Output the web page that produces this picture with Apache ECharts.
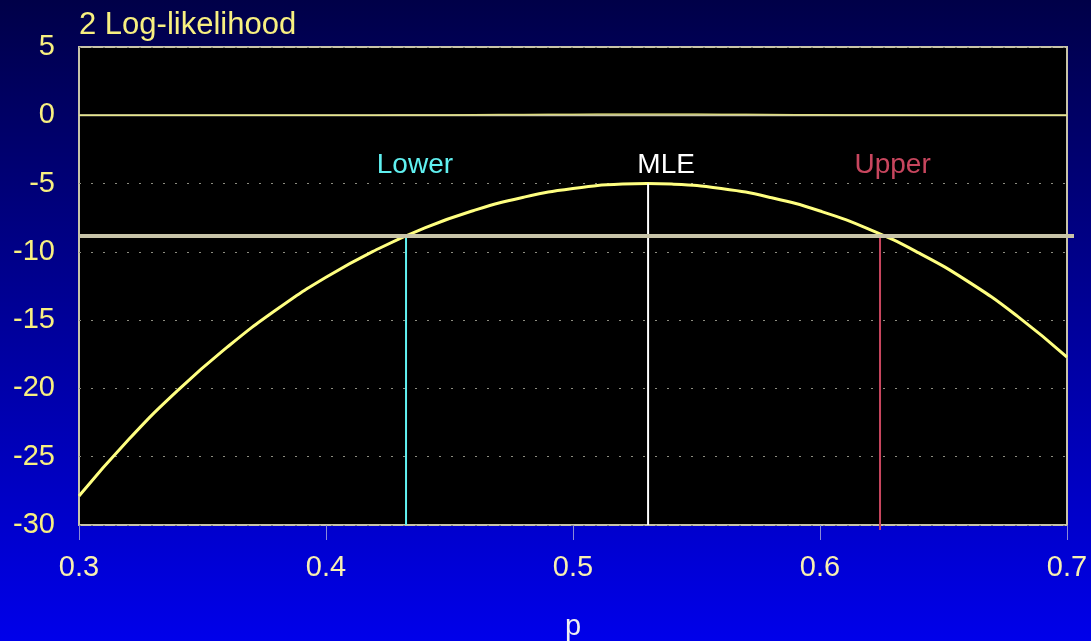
<!DOCTYPE html>
<html>
<head>
<meta charset="utf-8">
<script src="https://cdn.jsdelivr.net/npm/echarts@6/dist/echarts.min.js"></script>
<style>
html,body{margin:0;padding:0;background:#000060;}
#chart{width:1091px;height:641px;}
</style>
</head>
<body>
<div id="chart"></div>
<script>
// ---- data ----
var pValues = [0.30,0.32,0.34,0.36,0.38,0.40,0.42,0.44,0.46,0.48,0.50,0.52,0.53,0.54,0.56,0.58,0.60,0.62,0.64,0.66,0.68,0.70];
var logLik2 = [-27.88,-23.76,-20.14,-16.98,-14.22,-11.86,-9.88,-8.24,-6.96,-6.00,-5.36,-5.04,-5.00,-5.04,-5.36,-6.02,-7.01,-8.35,-10.08,-12.18,-14.72,-17.71];
var likScaled = [0,0,0,0,0.001,0.003,0.009,0.020,0.038,0.061,0.084,0.098,0.100,0.098,0.083,0.060,0.037,0.019,0.008,0.003,0.001,0];
var boundNames = ['Lower','MLE','Upper'];
var boundP = [0.4324,0.5304,0.6243];
var boundTop = [-8.84,-5.00,-8.84];
var boundBottom = [-30,-30,-30.37];
var boundColors = ['#60f0f0','#ffffff','#c8465e'];
var labelP = [0.4360,0.5377,0.6294];
var labelY = [-3.63,-3.63,-3.63];
var thresholdValue = -8.84;
var thresholdP = [0.30,0.70283];
var xTicks = {min:0.3,max:0.7,interval:0.1};
var yTicks = {min:-30,max:5,interval:5};

var FONT = 'Liberation Sans, Arial, sans-serif';
var curveData = pValues.map(function(p,i){return [p,logLik2[i]];});
var likData = pValues.map(function(p,i){return [p,likScaled[i]];});

var series = [
  {type:'line', xAxisIndex:0, yAxisIndex:0, data:[[0.3,0],[0.7,0]], symbol:'none',
   lineStyle:{color:'#c8c4a8',width:2}, z:2, silent:true},
  {type:'line', xAxisIndex:0, yAxisIndex:0, data:likData, smooth:true, symbol:'none',
   lineStyle:{color:'#f0f080',width:1.5,opacity:0.75}, z:3, silent:true},
  {type:'line', xAxisIndex:0, yAxisIndex:0, data:curveData, smooth:true, symbol:'none',
   lineStyle:{color:'#ffff80',width:3}, z:4, silent:true}
];
boundNames.forEach(function(n,i){
  series.push({type:'line', xAxisIndex:0, yAxisIndex:0, clip:false, symbol:'none', silent:true,
    data:[[boundP[i],boundTop[i]],[boundP[i],boundBottom[i]]],
    lineStyle:{color:boundColors[i],width:2}, z:5});
});
series.push({type:'line', xAxisIndex:1, yAxisIndex:1, clip:false, symbol:'none', silent:true,
  data:[[thresholdP[0],thresholdValue],[thresholdP[1],thresholdValue]],
  lineStyle:{color:'#c8c4a8',width:4}, z:6});
series.push({type:'scatter', xAxisIndex:0, yAxisIndex:0, symbolSize:2, silent:true,
  itemStyle:{color:'rgba(0,0,0,0)',opacity:1},
  data:boundNames.map(function(n,i){return {name:n,value:[labelP[i],labelY[i]],
    label:{color:boundColors[i]}};}),
  label:{show:true,position:'inside',formatter:'{b}',fontSize:28,fontFamily:FONT,
    opacity:1,textBorderWidth:0},
  z:7});

var option = {
  animation:false,
  backgroundColor:{type:'linear',x:0,y:0,x2:0,y2:1,
    colorStops:[{offset:0,color:'#000048'},{offset:1,color:'#0000ea'}]},
  title:{text:'2 Log-likelihood', left:74, top:5,
    textStyle:{color:'#f8f080',fontSize:31,fontWeight:'normal',fontFamily:FONT}},
  grid:[
    {left:79,right:24,top:47,bottom:116,show:true,backgroundColor:'#000000',
     borderColor:'#c8c4a8',borderWidth:2,outerBoundsMode:'none',containLabel:false},
    {left:79,right:17,top:47,bottom:116,show:false,outerBoundsMode:'none',containLabel:false}
  ],
  xAxis:[
    {type:'value',gridIndex:0,min:xTicks.min,max:xTicks.max,interval:xTicks.interval,
     name:'p',nameLocation:'middle',nameGap:87,
     nameTextStyle:{color:'#f0f0f0',fontSize:29,fontFamily:FONT},
     axisLine:{show:false,onZero:false},
     axisTick:{show:true,length:15,lineStyle:{color:'#8a8ad8',width:1}},
     axisLabel:{color:'#f8f0b0',fontSize:29,fontFamily:FONT,margin:28,
       formatter:function(v){return (Math.round(v*10)/10).toString();}},
     splitLine:{show:false}},
    {type:'value',gridIndex:1,min:thresholdP[0],max:thresholdP[1],show:false}
  ],
  yAxis:[
    {type:'value',gridIndex:0,min:yTicks.min,max:yTicks.max,interval:yTicks.interval,
     axisLine:{show:false},axisTick:{show:false},
     axisLabel:{color:'#f8f080',fontSize:29,fontFamily:FONT,margin:24},
     splitLine:{show:true,lineStyle:{color:'#8c8c80',width:1,type:[2,10]}}},
    {type:'value',gridIndex:1,min:yTicks.min,max:yTicks.max,show:false}
  ],
  series:series
};
var chart = echarts.init(document.getElementById('chart'),null,{renderer:'canvas'});
chart.setOption(option);
</script>
</body>
</html>
